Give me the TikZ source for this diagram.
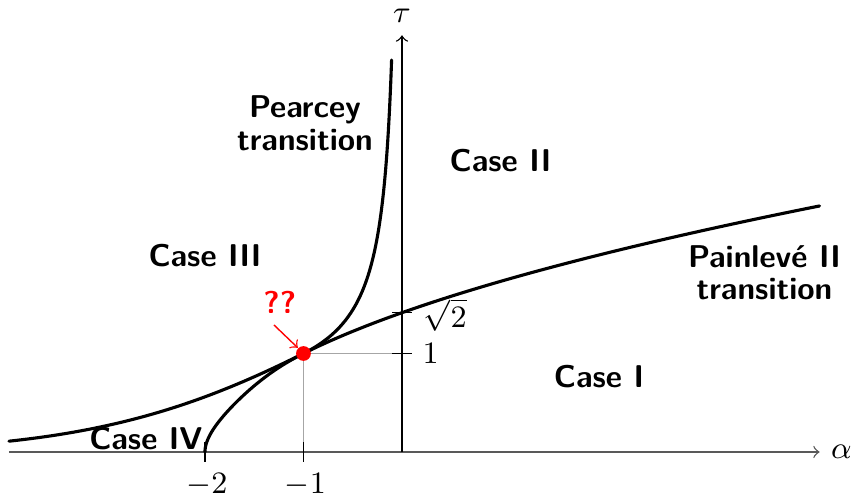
\documentclass[tikz,border=0pt]{standalone}
\usepackage{fontspec}
\begin{document}
\begin{tikzpicture}[x=1cm,y=1cm,
  every node/.style={font=\fontsize{9.1}{9.4}\selectfont},
  curve/.style={line width=0.9pt, line join=round, line cap=round},
  axisline/.style={line width=0.4pt},
  guide/.style={line width=0.4pt, black!35},
  region/.style={font=\fontsize{9.1}{9.4}\selectfont\sffamily\bfseries, align=center, inner sep=0pt},
  ticklabel/.style={inner sep=0pt}]
\useasboundingbox (-4.081,-0.4365) rectangle (4.579,4.589);
% guides
\draw[guide] (-1,0) -- (-1,1) -- (0,1);
% axes
\draw[axisline, black!65, ->] (-3.99,0) -- (4.24,0) coordinate (xend);
\draw[axisline, ->] (0,0) -- (0,4.23) coordinate (yend);
\node[ticklabel] (alab) at (4.46,0) {$\alpha$};
\node[ticklabel] (tlab) at (0,4.43) {$\tau$};
% ticks
\draw[axisline] (-2,0.1) -- (-2,-0.1);
\draw[axisline] (-1,0.1) -- (-1,-0.1);
\draw[axisline] (-0.1,1) -- (0.1,1);
\draw[axisline] (-0.1,1.4142) -- (0.1,1.4142);
\node[ticklabel] (lm2) at (-1.98,-0.33) {$-2$};
\node[ticklabel] (lm1) at (-0.98,-0.33) {$-1$};
\node[ticklabel] (l1) at (0.29,1.0) {$1$};
\node[ticklabel] (ls2) at (0.44,1.39) {$\sqrt{2}$};
% Painleve curve
\draw[curve] plot[domain=-3.99:-1, samples=60] (\x,{exp(0.5*(\x+1)-0.08*(\x+1)*(\x+1))})
  -- plot[domain=-1:4.24, samples=80] (\x,{sqrt(\x+2)});
% Pearcey curve
\draw[curve] plot[domain=0:1, samples=50, variable=\t] ({-2+2*\t*\t-2*\t*\t*\t+\t*\t*\t*\t},\t)
  -- plot[domain=1:3.98, samples=80, variable=\t] ({-(0.3/\t+0.4/(\t*\t)+0.3/(\t*\t*\t))},\t);
% red point
\node[circle, fill=red, inner sep=0pt, minimum size=0.15cm] (crit) at (-1,1) {};
\node[region, text=red] (qq) at (-1.24,1.52) {??};
\coordinate (qqa) at (-1.30,1.29);
\draw[red, line width=0.4pt, ->] (qqa) -- (crit.north west);
% region labels
\node[region] (pear) at (-0.985,3.34) {Pearcey\\transition};
\node[region] (c2) at (1.0,2.96) {Case II};
\node[region] (c3) at (-2.0,1.99) {Case III};
\node[region] (pain) at (3.68,1.82) {Painlevé II\\transition};
\node[region] (c1) at (2.0,0.77) {Case I};
\node[region] (c4) at (-2.6,0.14) {Case IV};
\end{tikzpicture}
\end{document}
